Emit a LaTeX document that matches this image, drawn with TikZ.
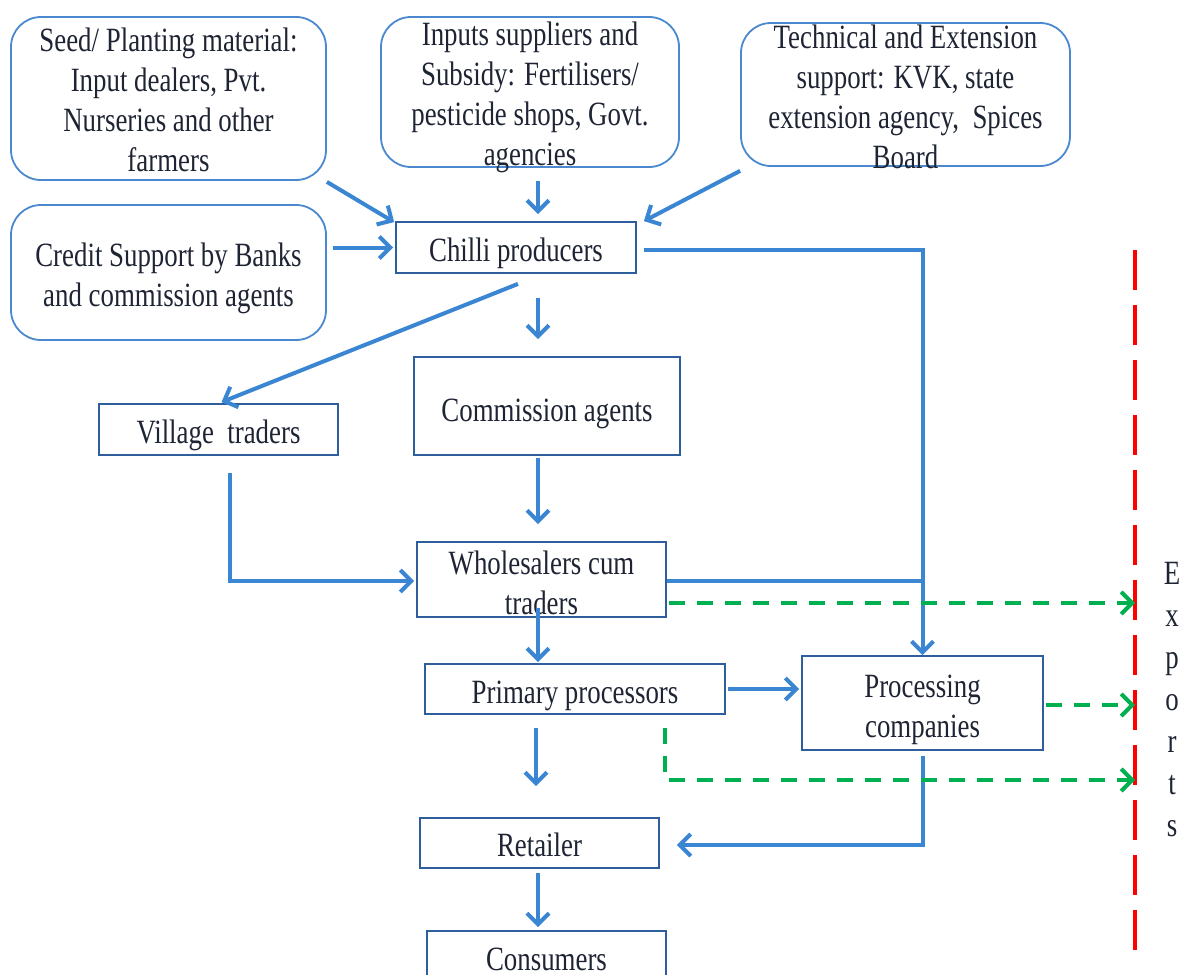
\documentclass[tikz,border=0pt]{standalone}
\usepackage{fontspec}
\setmainfont{Liberation Serif}[FakeStretch=0.79]
\usetikzlibrary{arrows.meta,calc}

\definecolor{txt}{HTML}{1E2433}
\definecolor{boxline}{HTML}{2F5E9C}
\definecolor{roundline}{HTML}{4A88D0}
\definecolor{flowblue}{HTML}{3A86D3}
\definecolor{expgreen}{HTML}{00B050}
\definecolor{expred}{HTML}{FF0000}

% invisible strut that lowers a label inside its box
\newcommand\lowr[1]{\rule{0pt}{#1pt}}

\tikzset{
  every node/.style={text=txt, font=\fontsize{34}{40}\selectfont, inner sep=0pt, align=center},
  actor/.style={draw=boxline, line width=1.8pt, rectangle},
  source/.style={draw=roundline, line width=1.8pt, rectangle, rounded corners=30pt},
  flow/.style={draw=flowblue, line width=4pt,
    -{Straight Barb[length=11pt,width=22pt,line width=4pt]}},
  plainflow/.style={draw=flowblue, line width=4pt},
  exportflow/.style={draw=expgreen, line width=4pt, dash pattern=on 16pt off 12pt,
    -{Straight Barb[length=11pt,width=22pt,line width=4pt]}},
  border/.style={draw=expred, line width=3.5pt, dash pattern=on 40pt off 15pt}
}

\begin{document}
\begin{tikzpicture}[x=1pt,y=-1pt]
\useasboundingbox (0,0) rectangle (1182,974);

% support services (the two upper-right texts run past their frames)
\node[source, minimum width=315pt, minimum height=163pt] (seed) at (168.5,98.5)
  {\lowr{25.5}Seed/ Planting material:\\Input dealers, Pvt.\\Nurseries and other\\farmers};
\node[source, minimum width=298pt, minimum height=150pt,
  label={[yshift=-5pt]center:{Inputs suppliers and\\Subsidy: Fertilisers/\\pesticide shops, Govt.\\agencies}}]
  (inputs) at (530,92) {};
\node[source, minimum width=329pt, minimum height=143pt,
  label={[yshift=-2pt]center:{Technical and Extension\\support: KVK, state\\extension agency,\ \ Spices\\Board}}]
  (tech) at (905.5,94.5) {};
\node[source, minimum width=315pt, minimum height=135pt] (credit) at (168.5,272.5)
  {\lowr{35.5}Credit Support by Banks\\and commission agents};

% market actors
\node[actor, minimum width=240pt, minimum height=51pt] (chilli) at (516,247.5) {\lowr{35.5}Chilli producers};
\node[actor, minimum width=239pt, minimum height=51pt] (village) at (218.5,429.5) {\lowr{35.5}Village\ \ traders};
\node[actor, minimum width=266pt, minimum height=98pt] (commission) at (547,406) {\lowr{37.5}Commission agents};
\node[actor, minimum width=249pt, minimum height=75pt] (wholesale) at (541.5,579.5) {\lowr{29.5}Wholesalers cum\\traders};
\node[actor, minimum width=300pt, minimum height=50pt] (primary) at (575,689) {\lowr{35.5}Primary processors};
\node[actor, minimum width=241pt, minimum height=94pt] (proc) at (922.5,703) {\lowr{35.5}Processing\\companies};
\node[actor, minimum width=239pt, minimum height=50pt] (retailer) at (539.5,843) {\lowr{27.5}Retailer};
\node[actor, minimum width=239pt, minimum height=56pt, anchor=north] (consumers) at (546.5,930) {Consumers};

% export border and label
\coordinate (exTop) at (1135,250);
\coordinate (exBot) at (1135,950);
\coordinate (exLow) at (1135,780);
\draw[border] (exTop) -- (exBot);
\node[font=\fontsize{34}{42}\selectfont] (exports) at (1172,700) {E\\x\\p\\o\\r\\t\\s};

% inputs into production
\draw[flow] ([yshift=-1pt]seed.south east) -- ([xshift=-1pt,yshift=-1pt]chilli.north west);
\draw[flow] ([xshift=8pt,yshift=-13pt]inputs.south) -- ([xshift=22pt,yshift=7pt]chilli.north);
\draw[flow] ([yshift=-4pt]tech.south west) -- ([xshift=7pt]chilli.north east);
\draw[flow] ([xshift=6pt]credit.east |- chilli.west) -- ([xshift=-2pt]chilli.west);

% produce flows
\draw[flow] ([xshift=2pt,yshift=-10pt]chilli.south) -- ([xshift=3pt,yshift=1pt]village.north);
\draw[flow] ([xshift=22pt,yshift=-24pt]chilli.south) -- ([xshift=-9pt,yshift=17pt]commission.north);
\draw[flow] ([xshift=7pt,yshift=-2pt]chilli.east) -| (proc.north);
\draw[flow] ([xshift=-9pt,yshift=-2pt]commission.south) -- ([xshift=-3.5pt,yshift=17pt]wholesale.north);
\draw[flow] ([xshift=11.5pt,yshift=-17pt]village.south) |- ([xshift=-2pt,yshift=-1.5pt]wholesale.west);
\draw[plainflow] ([yshift=-1.5pt]wholesale.east) -- ([yshift=-1.5pt]wholesale.east -| proc.north);
\draw[flow] ([xshift=-3.5pt,yshift=10pt]wholesale.south) -- ([xshift=-3.5pt,yshift=1pt]wholesale.south |- primary.north);
\draw[flow] ([xshift=2pt]primary.east) -- ([xshift=-2pt]primary.east -| proc.west);
\draw[flow] ([xshift=-39pt,yshift=-13pt]primary.south) -- ([xshift=-3.5pt,yshift=31pt]retailer.north);
\draw[flow] ([yshift=-5pt]proc.south) |- ([xshift=17pt,yshift=-2pt]retailer.east);
\draw[flow] ([xshift=-1.5pt,yshift=-4pt]retailer.south) -- ([xshift=-8.5pt,yshift=3pt]consumers.north);

% export flows
\coordinate (w1) at ([xshift=2pt,yshift=-23.5pt]wholesale.east);
\coordinate (c1) at ([xshift=2pt,yshift=-2pt]proc.east);
\coordinate (p1) at ([xshift=-61pt,yshift=-13pt]primary.south east);
\draw[exportflow] (w1) -- (w1 -| exTop);
\draw[exportflow] (c1) -- (c1 -| exTop);
\draw[exportflow] (p1) |- (exLow);
\end{tikzpicture}
\end{document}
